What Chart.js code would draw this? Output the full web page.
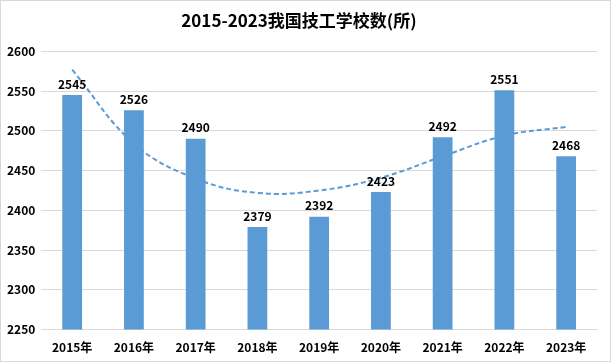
<!DOCTYPE html>
<html>
<head>
<meta charset="utf-8">
<script src="https://cdn.jsdelivr.net/npm/chart.js@4.4.0/dist/chart.umd.min.js"></script>
<style>
  body { margin: 0; background: #fff; }
</style>
</head>
<body>
<canvas id="chart" width="611" height="362"></canvas>
<script>
// data
const years = ['2015年', '2016年', '2017年', '2018年', '2019年', '2020年', '2021年', '2022年', '2023年']
const schools = [2545, 2526, 2490, 2379, 2392, 2423, 2492, 2551, 2468]
// trend line
const trend = [2577, 2484, 2440, 2422, 2425, 2441, 2468, 2494, 2505]
const yTicks = [2250, 2300, 2350, 2400, 2450, 2500, 2550, 2600]

const FONT = "'Noto Sans CJK SC', 'Liberation Sans', sans-serif"

// white page with light border
const frame = {
  id: 'frame',
  beforeDraw(chart) {
    const { ctx, width, height } = chart
    ctx.save()
    ctx.fillStyle = '#fff'
    ctx.fillRect(0, 0, width, height)
    ctx.strokeStyle = '#d9d9d9'
    ctx.lineWidth = 1
    ctx.strokeRect(0.5, 0.5, width - 1, height - 1)
    ctx.restore()
  }
}

// value labels above bars
const barLabels = {
  id: 'barLabels',
  afterDatasetsDraw(chart) {
    const { ctx } = chart
    const meta = chart.getDatasetMeta(0)
    ctx.save()
    ctx.font = 'bold 12px ' + FONT
    ctx.fillStyle = '#000'
    ctx.textAlign = 'center'
    ctx.textBaseline = 'bottom'
    meta.data.forEach((bar, i) => {
      ctx.fillText(schools[i], bar.x, bar.y - 5)
    })
    ctx.restore()
  }
}

const ctx = document.getElementById('chart').getContext('2d')

new Chart(ctx, {
  data: {
    labels: years,
    datasets: [{
      type: 'bar',
      data: schools,
      backgroundColor: '#5b9bd5',
      categoryPercentage: 1,
      barPercentage: 0.32,
      order: 2
    }, {
      type: 'line',
      data: trend,
      borderColor: '#5b9bd5',
      borderWidth: 2,
      borderDash: [5, 3],
      pointRadius: 0,
      tension: 0.4,
      fill: false,
      order: 1
    }]
  },
  options: {
    responsive: false,
    animation: false,
    layout: { padding: { left: 1, right: 14, top: 0, bottom: 4 } },
    plugins: {
      legend: { display: false },
      tooltip: { enabled: false },
      title: {
        display: true,
        text: '2015-2023我国技工学校数(所)',
        color: '#000',
        font: { family: FONT, size: 17, weight: 'bold' },
        padding: { top: 10, bottom: 21 }
      }
    },
    scales: {
      x: {
        grid: { display: false },
        border: { color: '#d9d9d9' },
        ticks: {
          color: '#000',
          font: { family: FONT, size: 12, weight: 'bold' },
          maxRotation: 0,
          padding: 3
        }
      },
      y: {
        min: 2250,
        max: 2600,
        afterBuildTicks(axis) {
          axis.ticks = yTicks.map(v => ({ value: v }))
        },
        grid: { color: '#d9d9d9', drawTicks: false },
        border: { display: false },
        ticks: {
          color: '#000',
          font: { family: FONT, size: 12, weight: 'bold' },
          padding: 6,
          callback: v => String(v)
        }
      }
    }
  },
  plugins: [frame, barLabels]
})
</script>
</body>
</html>
